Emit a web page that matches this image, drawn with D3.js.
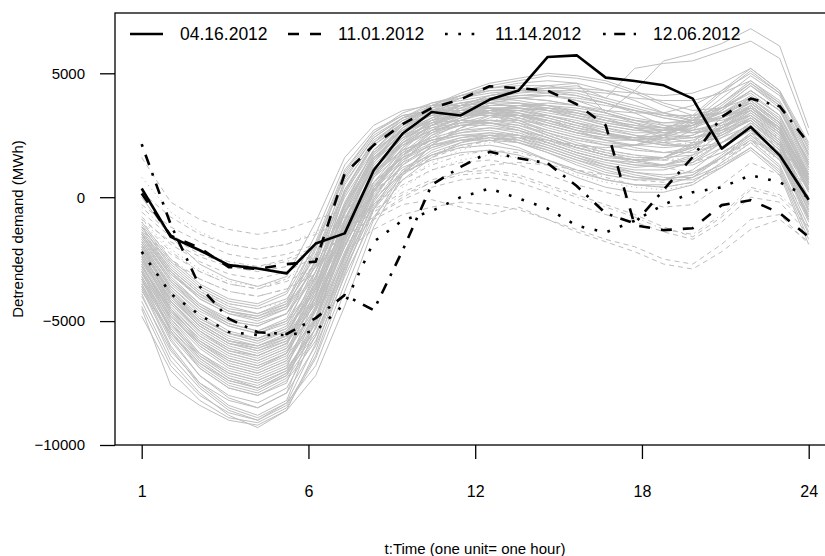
<!DOCTYPE html>
<html>
<head>
<meta charset="utf-8">
<script src="https://cdn.jsdelivr.net/npm/d3@7"></script>
<style>
body { margin: 0; background: #fff; }
svg text { font-family: "Liberation Sans", Arial, sans-serif; fill: #000; }
</style>
</head>
<body>
<svg id="chart" width="825" height="556"></svg>
<script>
// hours of the day (x values)
let hours = [1, 2, 3, 4, 5, 6, 7, 8, 9, 10, 11, 12, 13, 14, 15, 16, 17, 18, 19, 20, 21, 22, 23, 24];

// x ticks sit at equal steps, labelled with the hour
let xTickPos = [1, 6.75, 12.5, 18.25, 24];
let xTickLabels = ['1', '6', '12', '18', '24'];
let yTicks = [-10000, -5000, 0, 5000];

// highlighted days
let dates = ['04.16.2012', '11.01.2012', '11.14.2012', '12.06.2012'];
let day0416 = [350, -1600, -2140, -2740, -2875, -3075, -1870, -1460, 1090, 2570, 3440, 3300, 3940, 4310, 5660, 5725, 4825, 4690, 4515, 3980, 1960, 2835, 1690, -100];
let day1101 = [150, -1550, -2050, -2820, -2900, -2700, -2600, 950, 2100, 2950, 3600, 3950, 4480, 4400, 4300, 3750, 2900, -1130, -1330, -1250, -320, -120, -640, -1600];
let day1114 = [-2200, -3900, -4750, -5440, -5560, -5560, -5400, -4300, -1800, -930, -560, 0, 350, -50, -460, -1150, -1420, -950, -300, 200, 400, 890, 600, 0];
let day1206 = [2140, -1100, -3600, -4900, -5450, -5520, -4880, -3950, -4560, -2140, 500, 1220, 1830, 1570, 1370, 450, -650, -1060, 300, 1620, 3240, 3980, 3670, 2170];

// all the other days, grey, grouped by line type
let graySolid = [
  [-3600, -6000, -7500, -8400, -8800, -8200, -5200, -1200, 1400, 2700, 3500, 4000, 4400, 4600, 4700, 4600, 4300, 3900, 3400, 3100, 3200, 3600, 2700, 300],
  [-3300, -5700, -7200, -8100, -8500, -7900, -4900, -1000, 1500, 2800, 3600, 4100, 4500, 4700, 4900, 4800, 4600, 4200, 3700, 3300, 3400, 3800, 2900, 500],
  [-4200, -6600, -7900, -8800, -9300, -8600, -6200, -2800, 200, 1900, 2900, 3500, 3900, 4100, 4200, 4100, 3800, 3400, 2900, 2600, 2800, 3300, 2300, -300],
  [-3000, -5400, -6900, -7700, -8000, -7500, -4400, -600, 1700, 2900, 3700, 4200, 4600, 4800, 5000, 4900, 4700, 4300, 3800, 3500, 3600, 4000, 3100, 800],
  [-2700, -4900, -6300, -7100, -7400, -6900, -4000, -300, 1900, 3000, 3700, 4100, 4400, 4500, 4500, 4300, 4000, 3700, 3400, 3200, 3400, 3900, 3000, 900],
  [-2400, -4500, -5800, -6600, -6900, -6300, -3400, 200, 2200, 3200, 3800, 4100, 4300, 4300, 4200, 3900, 3500, 3200, 3000, 3000, 3400, 4000, 3200, 1100],
  [-2200, -4200, -5400, -6200, -6500, -6000, -3300, 100, 2100, 3000, 3500, 3800, 4000, 3900, 3700, 3400, 3100, 2900, 2800, 2900, 3300, 3900, 3000, 900],
  [-2000, -3900, -5100, -5800, -6100, -5600, -3000, 300, 2200, 3100, 3600, 3800, 3900, 3800, 3500, 3200, 2900, 2700, 2700, 2900, 3400, 4100, 3300, 1200],
  [-1800, -3600, -4700, -5400, -5700, -5200, -2700, 500, 2300, 3100, 3500, 3700, 3800, 3600, 3300, 3000, 2800, 2600, 2600, 2900, 3500, 4300, 3500, 1400],
  [-1600, -3300, -4400, -5100, -5400, -4900, -2500, 700, 2400, 3200, 3500, 3600, 3600, 3400, 3000, 2700, 2500, 2400, 2500, 2900, 3600, 4500, 3700, 1600],
  [-1400, -3000, -4100, -4700, -5000, -4500, -2100, 900, 2500, 3200, 3500, 3500, 3500, 3200, 2800, 2500, 2300, 2300, 2500, 3000, 3800, 4700, 3900, 1800],
  [-1200, -2800, -3800, -4400, -4700, -4200, -1800, 1100, 2600, 3300, 3500, 3500, 3400, 3100, 2600, 2300, 2100, 2100, 2400, 3100, 4000, 4900, 4100, 2000],
  [-1000, -2500, -3500, -4100, -4300, -3800, -1500, 1300, 2700, 3300, 3500, 3400, 3300, 3000, 2500, 2100, 2000, 2100, 2500, 3200, 4200, 5100, 4200, 2100],
  [-2500, -4400, -5600, -6300, -6600, -6100, -4200, -1500, 900, 2200, 2900, 3300, 3600, 3600, 3500, 3300, 3100, 2900, 2700, 2700, 3000, 3500, 2700, 600],
  [-2900, -4800, -6000, -6800, -7100, -6600, -4800, -2000, 600, 2000, 2800, 3200, 3500, 3600, 3500, 3400, 3200, 3000, 2800, 2700, 2900, 3300, 2500, 300],
  [-3400, -5300, -6500, -7300, -7600, -7000, -5300, -2500, 200, 1700, 2600, 3100, 3500, 3700, 3700, 3600, 3400, 3100, 2800, 2600, 2700, 3100, 2200, 0],
  [-1900, -3700, -4900, -5500, -5800, -5400, -3700, -1000, 1300, 2400, 3000, 3300, 3400, 3300, 3100, 2800, 2600, 2400, 2300, 2400, 2800, 3400, 2600, 500],
  [-2300, -4100, -5200, -5900, -6200, -5800, -3900, -1200, 1100, 2300, 3000, 3400, 3700, 3700, 3600, 3400, 3100, 2800, 2500, 2400, 2700, 3200, 2300, 200],
  [-1700, -3400, -4500, -5200, -5500, -5000, -3000, -400, 1700, 2700, 3200, 3500, 3600, 3500, 3200, 2900, 2600, 2400, 2300, 2500, 3000, 3700, 2800, 700],
  [-2600, -4600, -5900, -6700, -7000, -6500, -3700, -300, 1900, 3000, 3600, 4000, 4300, 4400, 4300, 4100, 3800, 3500, 3200, 3000, 3100, 3500, 2600, 400],
  [-2100, -4000, -5200, -5900, -6200, -5700, -3200, -700, 1500, 2600, 3200, 3500, 3700, 3700, 3500, 3200, 2900, 2700, 2600, 2600, 3000, 3600, 2800, 700],
  [-1300, -2900, -3900, -4600, -4900, -4400, -2300, 600, 2200, 3000, 3300, 3400, 3400, 3200, 2900, 2600, 2400, 2300, 2400, 2800, 3500, 4300, 3500, 1500],
  [-1100, -2600, -3600, -4200, -4400, -3900, -1900, 800, 2400, 3200, 3700, 3900, 4100, 4300, 4500, 4600, 3400, 4300, 5500, 5800, 6200, 6800, 6100, 2800],
  [-1500, -3100, -4000, -4600, -4800, -4300, -2000, 1000, 2600, 3400, 3800, 4000, 4200, 4300, 4400, 4500, 4000, 5200, 5400, 5500, 5900, 6300, 5600, 2500],
  [-4800, -7000, -8200, -8900, -9100, -8500, -6500, -3500, -500, 1400, 2500, 3100, 3500, 3700, 3800, 3700, 3400, 3000, 2600, 2400, 2600, 3100, 2100, -600],
  [0, -1600, -2700, -3300, -3600, -3200, -1000, 1600, 2900, 3500, 3700, 3700, 3600, 3300, 2900, 2600, 2400, 2400, 2700, 3300, 4300, 5200, 4300, 2200],
  [-4500, -7600, -8400, -9000, -9200, -8600, -7200, -4400, -1200, 900, 2100, 2800, 3300, 3500, 3600, 3500, 3200, 2800, 2400, 2200, 2400, 2900, 1900, -800],
  [-2800, -4700, -5800, -6500, -6800, -6300, -4000, -900, 1600, 2700, 3300, 3700, 3900, 4000, 3900, 3700, 3400, 3100, 2900, 2900, 3200, 3800, 3000, 800],
  [-2000, -3800, -5000, -5700, -6000, -5500, -3500, -600, 1600, 2600, 3100, 3400, 3500, 3400, 3100, 2800, 2500, 2300, 2200, 2300, 2800, 3500, 2700, 600],
  [-3200, -5100, -6300, -7000, -7300, -6800, -4600, -1500, 1100, 2400, 3200, 3700, 4100, 4300, 4300, 4200, 3900, 3600, 3300, 3100, 3200, 3600, 2700, 300],
  [-1500, -3200, -4300, -5000, -5200, -4700, -2600, 300, 2100, 2900, 3300, 3400, 3500, 3300, 3000, 2700, 2500, 2400, 2500, 2900, 3700, 4600, 3800, 1700],
  [-2400, -4300, -5500, -6200, -6400, -5900, -3600, -500, 1800, 2800, 3400, 3700, 3800, 3800, 3600, 3300, 3000, 2800, 2700, 2800, 3200, 3800, 2900, 700],
  [-3800, -5500, -6800, -7600, -7900, -7300, -5600, -2900, -500, 900, 1700, 2100, 2300, 2200, 1900, 1500, 1200, 1000, 900, 1000, 1600, 2300, 1300, -1200],
  [-3100, -4900, -6100, -6900, -7200, -6700, -4900, -2200, 100, 1300, 2000, 2400, 2600, 2500, 2200, 1800, 1500, 1300, 1200, 1400, 2000, 2700, 1700, -700],
  [-2600, -4300, -5400, -6100, -6400, -5900, -4300, -1700, 500, 1600, 2200, 2500, 2600, 2400, 2000, 1600, 1300, 1100, 1100, 1400, 2200, 3000, 2100, -200],
  [-2200, -3900, -5000, -5600, -5900, -5400, -3800, -1300, 800, 1800, 2300, 2600, 2700, 2500, 2100, 1700, 1400, 1200, 1300, 1700, 2600, 3400, 2500, 300],
  [-4000, -6200, -7500, -8200, -8500, -7900, -6000, -3200, -800, 700, 1600, 2200, 2500, 2500, 2300, 2000, 1700, 1500, 1300, 1300, 1800, 2500, 1500, -1000],
  [-1800, -3400, -4400, -5000, -5200, -4700, -3000, -600, 1200, 2100, 2600, 2900, 3000, 2800, 2400, 2000, 1700, 1500, 1600, 2000, 2900, 3700, 2800, 700],
  [-3500, -5800, -7200, -8000, -8300, -7700, -5600, -2600, 0, 1500, 2400, 3000, 3300, 3300, 3100, 2700, 2300, 2000, 1800, 1800, 2200, 2800, 1800, -500],
  [-2900, -5000, -6400, -7200, -7500, -7000, -5100, -2300, 300, 1700, 2600, 3100, 3400, 3400, 3200, 2900, 2600, 2300, 2100, 2100, 2500, 3100, 2100, -200],
  [-1600, -3100, -4100, -4700, -4900, -4500, -2800, -300, 1600, 2500, 2900, 3100, 3100, 2900, 2500, 2100, 1800, 1600, 1600, 2000, 2800, 3600, 2800, 800],
  [-2400, -4100, -5200, -5900, -6100, -5700, -4200, -1800, 400, 1500, 2100, 2400, 2500, 2300, 1900, 1500, 1100, 800, 700, 900, 1600, 2400, 1500, -800],
  [-3300, -5200, -6400, -7100, -7400, -6900, -5300, -2700, -300, 1100, 1900, 2300, 2500, 2400, 2100, 1700, 1300, 1000, 800, 800, 1300, 2000, 1100, -1500],
  [-2000, -3600, -4600, -5200, -5500, -5100, -3600, -1200, 900, 1900, 2400, 2700, 2800, 2600, 2200, 1800, 1500, 1300, 1300, 1600, 2400, 3200, 2300, 400],
  [-2700, -4700, -6000, -6800, -7100, -6600, -4500, -1600, 800, 2100, 2900, 3400, 3700, 3800, 3700, 3500, 3300, 3100, 3000, 3100, 3600, 4300, 3500, 1200],
  [-1900, -3700, -4800, -5500, -5800, -5300, -3200, -200, 1900, 2900, 3500, 3800, 4000, 4000, 3900, 3700, 3500, 3400, 3400, 3700, 4300, 5000, 4200, 1900],
  [-3700, -6100, -7600, -8500, -8900, -8300, -5900, -2400, 400, 2000, 3000, 3600, 4000, 4200, 4300, 4300, 4200, 4000, 3900, 3900, 4200, 4700, 3800, 1300],
  [-1200, -2700, -3700, -4300, -4500, -4100, -2400, 200, 1900, 2700, 3000, 3100, 3000, 2700, 2200, 1800, 1500, 1400, 1600, 2200, 3200, 4000, 3100, 1000],
  [-2300, -4200, -5400, -6100, -6400, -5900, -4000, -1300, 1000, 2100, 2700, 3000, 3100, 3000, 2700, 2400, 2100, 1900, 1800, 2000, 2700, 3500, 2600, 500],
  [-3000, -5100, -6500, -7300, -7700, -7200, -5000, -1800, 800, 2200, 3100, 3700, 4100, 4300, 4400, 4400, 4300, 4200, 4100, 4200, 4600, 5200, 4300, 1700],
  [-2100, -3800, -4900, -5500, -5700, -5300, -3700, -1500, 600, 1600, 2100, 2300, 2300, 2000, 1500, 1000, 700, 500, 500, 800, 1600, 2500, 1600, -500],
  [-3900, -6400, -7700, -8600, -9000, -8400, -6400, -3100, -100, 1600, 2700, 3300, 3800, 4000, 4100, 4000, 3800, 3500, 3200, 3000, 3200, 3700, 2700, 200],
  [-1400, -2900, -3900, -4500, -4700, -4300, -2600, 0, 1800, 2700, 3100, 3300, 3300, 3100, 2700, 2400, 2200, 2100, 2200, 2700, 3600, 4500, 3600, 1300],
  [-2500, -4500, -5800, -6500, -6800, -6300, -4400, -1400, 1000, 2200, 2900, 3300, 3500, 3500, 3300, 3000, 2700, 2500, 2400, 2500, 3000, 3700, 2800, 600],
  [-3200, -5300, -6600, -7400, -7700, -7100, -4900, -1700, 900, 2300, 3100, 3600, 4000, 4100, 4100, 3900, 3700, 3500, 3300, 3300, 3600, 4200, 3300, 900],
  [-1700, -3300, -4300, -4900, -5100, -4700, -3200, -900, 1200, 2200, 2700, 2900, 2900, 2700, 2300, 1900, 1600, 1500, 1600, 2100, 3000, 3900, 3000, 900],
  [-2800, -4600, -5700, -6400, -6700, -6200, -4600, -2000, 400, 1700, 2500, 2900, 3100, 3100, 2900, 2600, 2300, 2100, 2000, 2100, 2600, 3300, 2400, 300],
  [-4400, -6800, -8000, -8700, -9000, -8300, -6800, -3800, -900, 1000, 2100, 2800, 3200, 3300, 3300, 3100, 2800, 2500, 2200, 2000, 2200, 2700, 1700, -900],
  [-2100, -3900, -5100, -5800, -6000, -5600, -3900, -1000, 1400, 2500, 3100, 3400, 3600, 3600, 3400, 3200, 3000, 2800, 2800, 3100, 3800, 4600, 3700, 1400],
  [-3500, -5500, -6700, -7400, -7700, -7100, -5500, -2800, -200, 1300, 2200, 2700, 3000, 2900, 2600, 2200, 1900, 1700, 1600, 1700, 2200, 2900, 1900, -400],
  [-3000, -4800, -5900, -6600, -6900, -6400, -4900, -2400, -100, 1000, 1500, 1800, 1900, 1700, 1300, 800, 400, 200, 200, 500, 1200, 2000, 1000, -1700],
  [-2500, -4200, -5300, -6000, -6300, -5800, -4300, -1900, 200, 1200, 1700, 2000, 2100, 1900, 1500, 1100, 700, 500, 400, 600, 1400, 2200, 1200, -1400],
  [-3600, -5600, -6900, -7700, -8000, -7400, -5800, -3000, -400, 1000, 1800, 2200, 2400, 2300, 2000, 1600, 1200, 900, 700, 700, 1200, 1900, 900, -1900],
  [-1900, -3500, -4500, -5100, -5400, -5000, -3500, -1100, 1000, 1900, 2300, 2500, 2500, 2200, 1800, 1300, 900, 700, 700, 1100, 2000, 2900, 1900, -300],
  [-2800, -4500, -5600, -6300, -6600, -6100, -4500, -2000, 300, 1400, 2000, 2300, 2400, 2200, 1800, 1400, 1000, 800, 700, 900, 1700, 2600, 1600, -900],
  [-2300, -4000, -5100, -5800, -6000, -5600, -4100, -1600, 600, 1700, 2300, 2600, 2800, 2700, 2400, 2000, 1700, 1400, 1300, 1500, 2200, 3000, 2000, -100],
  [-3300, -5400, -6700, -7500, -7800, -7200, -5300, -2300, 300, 1800, 2700, 3200, 3500, 3500, 3300, 3000, 2600, 2300, 2100, 2100, 2500, 3200, 2200, -300],
  [-1500, -3000, -4000, -4600, -4800, -4400, -2800, -400, 1500, 2400, 2800, 3000, 3000, 2800, 2400, 2000, 1700, 1500, 1500, 1900, 2800, 3700, 2800, 700]
];
let grayDashed = [
  [1600, -200, -900, -1300, -1500, -1300, -900, -500, 300, 1100, 1700, 2100, 2300, 2400, 2300, 2100, 1800, 1500, 1200, 1000, 1500, 2300, 1800, 300],
  [-600, -1600, -2300, -2700, -2800, -2500, -2000, -1200, -300, 500, 1100, 1400, 1500, 1300, 900, 500, 200, -100, -400, -300, 500, 1400, 900, -800],
  [-300, -1200, -1800, -2300, -2500, -2300, -1900, -1300, -500, 200, 700, 1000, 1100, 900, 500, 100, -300, -700, -1200, -1600, -800, 300, 0, -1200],
  [-1200, -2300, -3000, -3500, -3700, -3400, -2800, -1900, -900, -300, -100, -400, -700, -400, -900, -1400, -1800, -2200, -2700, -2900, -2200, -1300, -900, -1800],
  [-800, -1900, -2600, -3100, -3300, -3000, -2400, -1600, -800, 0, 600, 1000, 1300, 1400, 1300, 1100, 900, 700, 600, 800, 1600, 2600, 2100, 400],
  [200, -800, -1500, -1900, -2100, -1900, -1500, -900, 0, 900, 1600, 2000, 2300, 2400, 2300, 2100, 1900, 1700, 1500, 1400, 1800, 2500, 1900, 0],
  [-1500, -2600, -3300, -3800, -4000, -3700, -3100, -2200, -1300, -700, -400, -200, -300, -500, -900, -1300, -1700, -2000, -2500, -2700, -1900, -900, -700, -1900],
  [-900, -1800, -2400, -2800, -3000, -2800, -2300, -1600, -800, -100, 400, 700, 800, 600, 200, -300, -700, -1000, -1400, -1700, -1000, 0, -200, -1500]
];
let grayDotted = [
  [-900, -2100, -2900, -3400, -3600, -3300, -2500, -1400, -300, 700, 1400, 1900, 2200, 2300, 2200, 2000, 1800, 1600, 1500, 1600, 2200, 3000, 2400, 600],
  [800, -600, -1400, -1900, -2100, -1900, -1400, -700, 200, 1000, 1700, 2200, 2500, 2600, 2500, 2300, 2100, 1900, 1800, 1900, 2500, 3200, 2600, 700],
  [-1800, -3000, -3800, -4300, -4500, -4200, -3300, -2000, -600, 400, 1100, 1500, 1700, 1600, 1300, 900, 600, 400, 300, 500, 1300, 2200, 1500, -300]
];
let grayDotDash = [
  [-1000, -2200, -3000, -3500, -3700, -3300, -2200, -800, 600, 1600, 2300, 2800, 3100, 3200, 3100, 2900, 2600, 2300, 2100, 2200, 2800, 3600, 2800, 600],
  [-400, -1500, -2200, -2600, -2800, -2600, -2100, -1400, -600, 100, 600, 900, 1000, 800, 400, 0, -400, -800, -1300, -1500, -700, 400, 100, -1000],
  [-1300, -2500, -3300, -3800, -4000, -3700, -2800, -1600, -300, 700, 1300, 1700, 1900, 1800, 1500, 1100, 800, 500, 400, 600, 1400, 2300, 1600, -200]
];

let plotLeft = 115, plotTop = 13, plotRight = 835, plotBottom = 445;

let xScale = d3.scaleLinear().domain([1, 24]).range([141.7, 808.7]);
let yScale = d3.scaleLinear().domain([-10000, 5000]).range([445, 73.3]);

let svg = d3.select('#chart');

svg.append('clipPath')
        .attr('id', 'plotclip')
        .append('rect')
        .attr('x', plotLeft).attr('y', plotTop)
        .attr('width', plotRight - plotLeft).attr('height', plotBottom - plotTop);

let line = d3.line()
        .x((d, i) => xScale(hours[i]))
        .y(d => yScale(d));

let plot = svg.append('g').attr('clip-path', 'url(#plotclip)');

// grey days first
let grayGroups = [
  { data: graySolid, dash: null },
  { data: grayDashed, dash: '5,4' },
  { data: grayDotted, dash: '1.3,3.7' },
  { data: grayDotDash, dash: '1.3,3.7,5,3.7' }
];
grayGroups.forEach(g => {
  plot.selectAll(null)
          .data(g.data)
          .enter()
          .append('path')
          .attr('d', line)
          .attr('fill', 'none')
          .attr('stroke', '#bebebe')
          .attr('stroke-width', 1)
          .attr('stroke-dasharray', g.dash);
});

// the four highlighted days
let dashes = [null, '11,11', '2.7,10.6', '2.7,8.5,11,8.5'];
let blackSeries = [day0416, day1101, day1114, day1206];

plot.selectAll(null)
        .data(blackSeries)
        .enter()
        .append('path')
        .attr('d', line)
        .attr('fill', 'none')
        .attr('stroke', '#000')
        .attr('stroke-width', 2.6)
        .attr('stroke-linejoin', 'round')
        .attr('stroke-dasharray', (d, i) => dashes[i]);

// box
svg.append('rect')
        .attr('x', plotLeft).attr('y', plotTop)
        .attr('width', plotRight - plotLeft).attr('height', plotBottom - plotTop)
        .attr('fill', 'none')
        .attr('stroke', '#000')
        .attr('stroke-width', 1.3);

// axes
let yAxis = d3.axisLeft(yScale).tickValues(yTicks).tickSize(15).tickPadding(15)
        .tickFormat(d => d < 0 ? '\u2212' + Math.abs(d) : String(d));
let gy = svg.append('g')
        .attr('transform', 'translate(' + plotLeft + ',0)')
        .call(yAxis);
gy.select('.domain').remove();
gy.selectAll('line').attr('stroke-width', 1.3);
gy.selectAll('text').style('font-size', '15px').style('font-family', '"Liberation Sans", Arial, sans-serif');

let xAxis = d3.axisBottom(xScale).tickValues(xTickPos)
        .tickFormat((d, i) => xTickLabels[i])
        .tickSize(14).tickPadding(27);
let gx = svg.append('g')
        .attr('transform', 'translate(0,' + plotBottom + ')')
        .call(xAxis);
gx.select('.domain').remove();
gx.selectAll('line').attr('stroke-width', 1.3);
gx.selectAll('text').style('font-size', '16px').style('font-family', '"Liberation Sans", Arial, sans-serif');

// axis titles
svg.append('text')
        .attr('x', 475)
        .attr('y', 554)
        .style('text-anchor', 'middle')
        .style('font-size', '15px')
        .text('t:Time (one unit= one hour)');

svg.append('text')
        .attr('transform', 'translate(18,229) rotate(-90)')
        .attr('dy', '0.35em')
        .style('text-anchor', 'middle')
        .style('font-size', '15px')
        .text('Detrended demand (MWh)');

// legend
let legendX = [130, 288, 445, 603];
let legend = svg.selectAll('.leg')
        .data(dates)
        .enter()
        .append('g')
        .attr('class', 'leg')
        .attr('transform', (d, i) => 'translate(' + legendX[i] + ',34)');

legend.append('line')
        .attr('x1', 0).attr('x2', 33)
        .attr('stroke', '#000')
        .attr('stroke-width', 2.6)
        .attr('stroke-dasharray', (d, i) => dashes[i]);

legend.append('text')
        .attr('x', 50)
        .attr('dy', '0.36em')
        .style('font-size', '17.5px')
        .text(d => d);
</script>
</body>
</html>
